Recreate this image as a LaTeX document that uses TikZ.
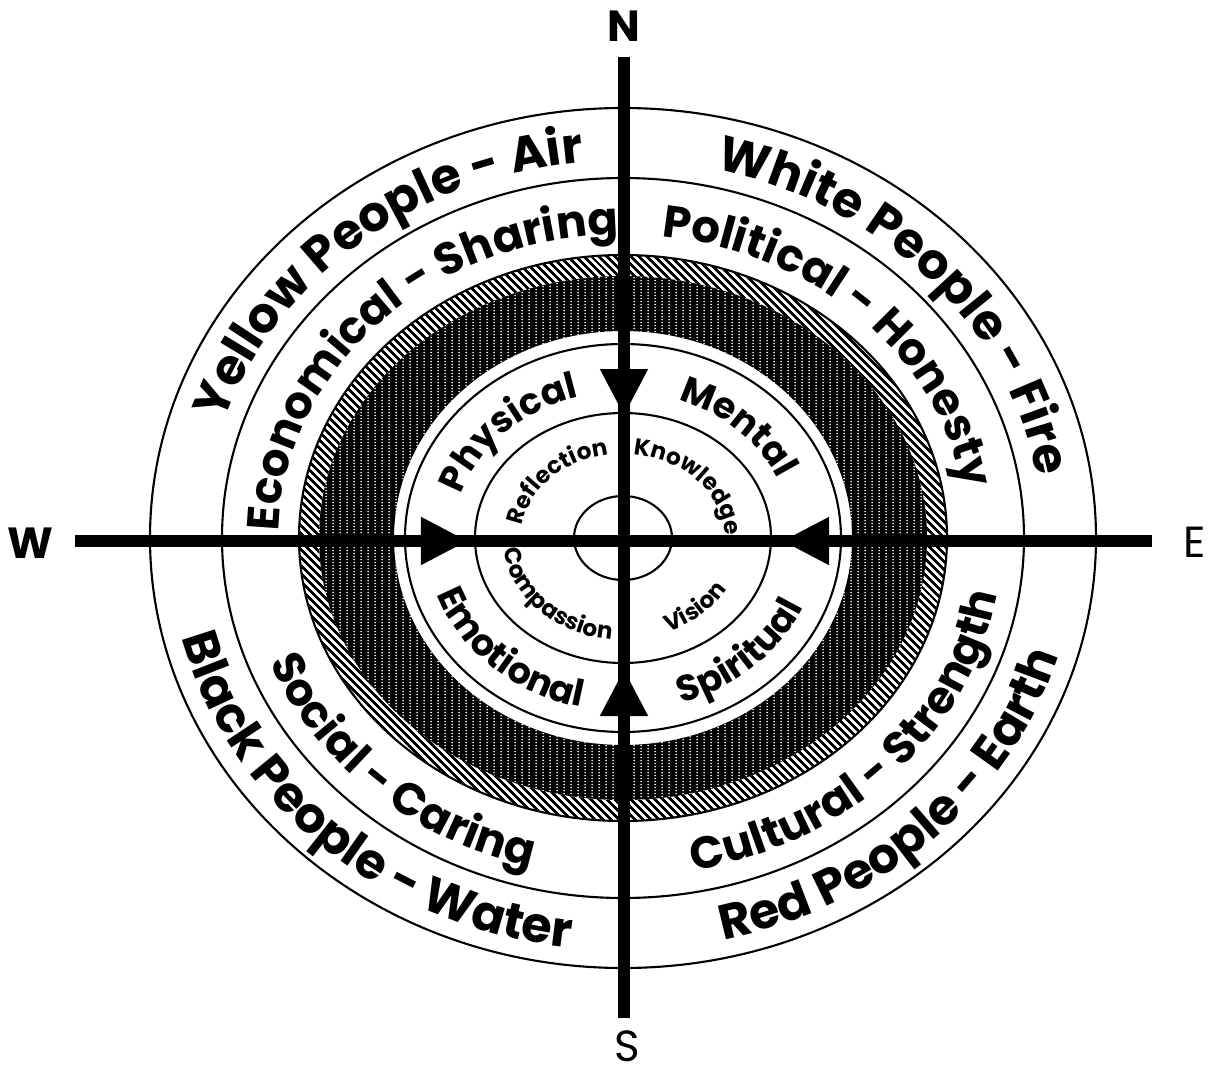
\documentclass[tikz,border=0pt]{standalone}
\usepackage{fontspec}
\setmainfont{Poppins}
\usetikzlibrary{arrows.meta, decorations.text, patterns.meta}
\pgfdeclarepattern{
  name=dotcols, type=uncolored,
  bottom left={\pgfpoint{0pt}{0pt}}, top right={\pgfpoint{5pt}{2.4pt}},
  tile size={\pgfpoint{5pt}{2.4pt}},
  code={\pgfpathcircle{\pgfpoint{2.5pt}{1.2pt}}{0.7pt}\pgfusepath{fill}}
}
\newcommand{\bandfont}{\bfseries\fontsize{35}{35}\selectfont}
\newcommand{\beltfont}{\bfseries\fontsize{32}{32}\selectfont}
\newcommand{\ringfont}{\bfseries\fontsize{26}{26}\selectfont}
\newcommand{\corefont}{\bfseries\fontsize{16.5}{16.5}\selectfont}
% text along an elliptic arc: font, text, from, to, x radius, y radius
\newcommand{\ringtext}[6]{\path[decorate, decoration={text along path, text align=center, text={|#1|#2}}]
  (#3:#5 and #6) arc[start angle=#3, end angle=#4, x radius=#5, y radius=#6];}
\tikzset{
  every picture/.style={line width=1.5pt},
  rim/.style={draw=black, line width=1.5pt},
  spoke/.style={draw=black, line width=9pt},
  arrowhead/.style={-{Triangle[length=1.15cm, width=1.2cm]}, line width=1pt},
  pole/.style={font=\fontsize{31}{31}\selectfont, inner sep=0pt},
  hatch/.style={pattern={Lines[angle=-45, distance=4pt, line width=2pt]}},
  speckle/.style={pattern=dotcols, pattern color=white},
}
\begin{document}
\begin{tikzpicture}
  \path[use as bounding box, fill=white] (-15.575,-13.475) rectangle (14.825,13.45);
  % outer bands
  \draw[rim] (0,0) ellipse[x radius=11.825, y radius=10.75];
  \draw[rim] (0,0) ellipse[x radius=10.025, y radius=9.0];
  % shaded belt
  \path[hatch, even odd rule] (0,0) ellipse[x radius=8.1, y radius=7.075] (0,0) ellipse[x radius=7.6, y radius=6.55];
  \fill[black, even odd rule] (0,0) ellipse[x radius=7.6, y radius=6.55] (0,0) ellipse[x radius=5.725, y radius=5.175];
  \path[speckle, even odd rule] (0,0) ellipse[x radius=7.6, y radius=6.55] (0,0) ellipse[x radius=5.725, y radius=5.175];
  \draw[rim] (0,0) ellipse[x radius=8.1, y radius=7.075];
  % inner circles
  \draw[rim] (0,0) ellipse[x radius=5.45, y radius=4.85];
  \draw[rim] (0,0) ellipse[x radius=3.7, y radius=3.125];
  \draw[rim] (0,0) ellipse[x radius=1.225, y radius=1.05];
  % labels on the bands
  \ringtext{\bandfont}{Yellow People - Air}{190}{70}{10.49}{9.44}
  \ringtext{\bandfont}{White People - Fire}{102}{-18}{10.49}{9.44}
  \ringtext{\bandfont}{Black People - Water}{167.5}{287.5}{11.36}{10.31}
  \ringtext{\bandfont}{Red People - Earth}{254.5}{374.5}{11.36}{10.31}
  \ringtext{\beltfont}{Economical - Sharing}{195.7}{75.7}{8.61}{7.585}
  \ringtext{\beltfont}{Political - Honesty}{105}{-15}{8.61}{7.585}
  \ringtext{\beltfont}{Social - Caring}{167}{287}{9.49}{8.465}
  \ringtext{\beltfont}{Cultural - Strength}{257}{377}{9.49}{8.465}
  \ringtext{\ringfont}{Physical}{196}{76}{4.235}{3.65}
  \ringtext{\ringfont}{Mental}{105}{-15}{4.235}{3.65}
  \ringtext{\ringfont}{Emotional}{166.5}{286.5}{4.915}{4.33}
  \ringtext{\ringfont}{Spiritual}{254}{374}{4.915}{4.33}
  \ringtext{\corefont}{Reflection}{197}{77}{2.55}{2.1}
  \ringtext{\corefont}{Knowledge}{101}{-19}{2.55}{2.1}
  \ringtext{\corefont}{Compassion}{164}{284}{3.0}{2.55}
  \ringtext{\corefont}{Vision}{254}{374}{3.0}{2.55}
  % compass cross
  \coordinate (aN) at (0.025,12.025);
  \coordinate (aS) at (0.025,-12.0);
  \coordinate (aW) at (-13.7,-0.075);
  \coordinate (aE) at (13.225,-0.075);
  \coordinate (tN) at (0.025,3.075);
  \coordinate (tS) at (0.025,-3.3);
  \coordinate (tW) at (-3.9,-0.075);
  \coordinate (tE) at (4.0,-0.075);
  \draw[spoke] (aN) -- (aS);
  \draw[spoke] (aW) -- (aE);
  \foreach \p in {N,S,W,E} \draw[arrowhead] (a\p) -- (t\p);
  \node[pole, font=\bfseries\fontsize{31}{31}\selectfont] (lN) at (0.025,12.8) {N};
  \node[pole] (lS) at (0.1,-12.7) {S};
  \node[pole, font=\bfseries\fontsize{31}{31}\selectfont] (lW) at (-14.825,-0.125) {W};
  \node[pole] (lE) at (14.3,-0.1) {E};
\end{tikzpicture}
\end{document}
